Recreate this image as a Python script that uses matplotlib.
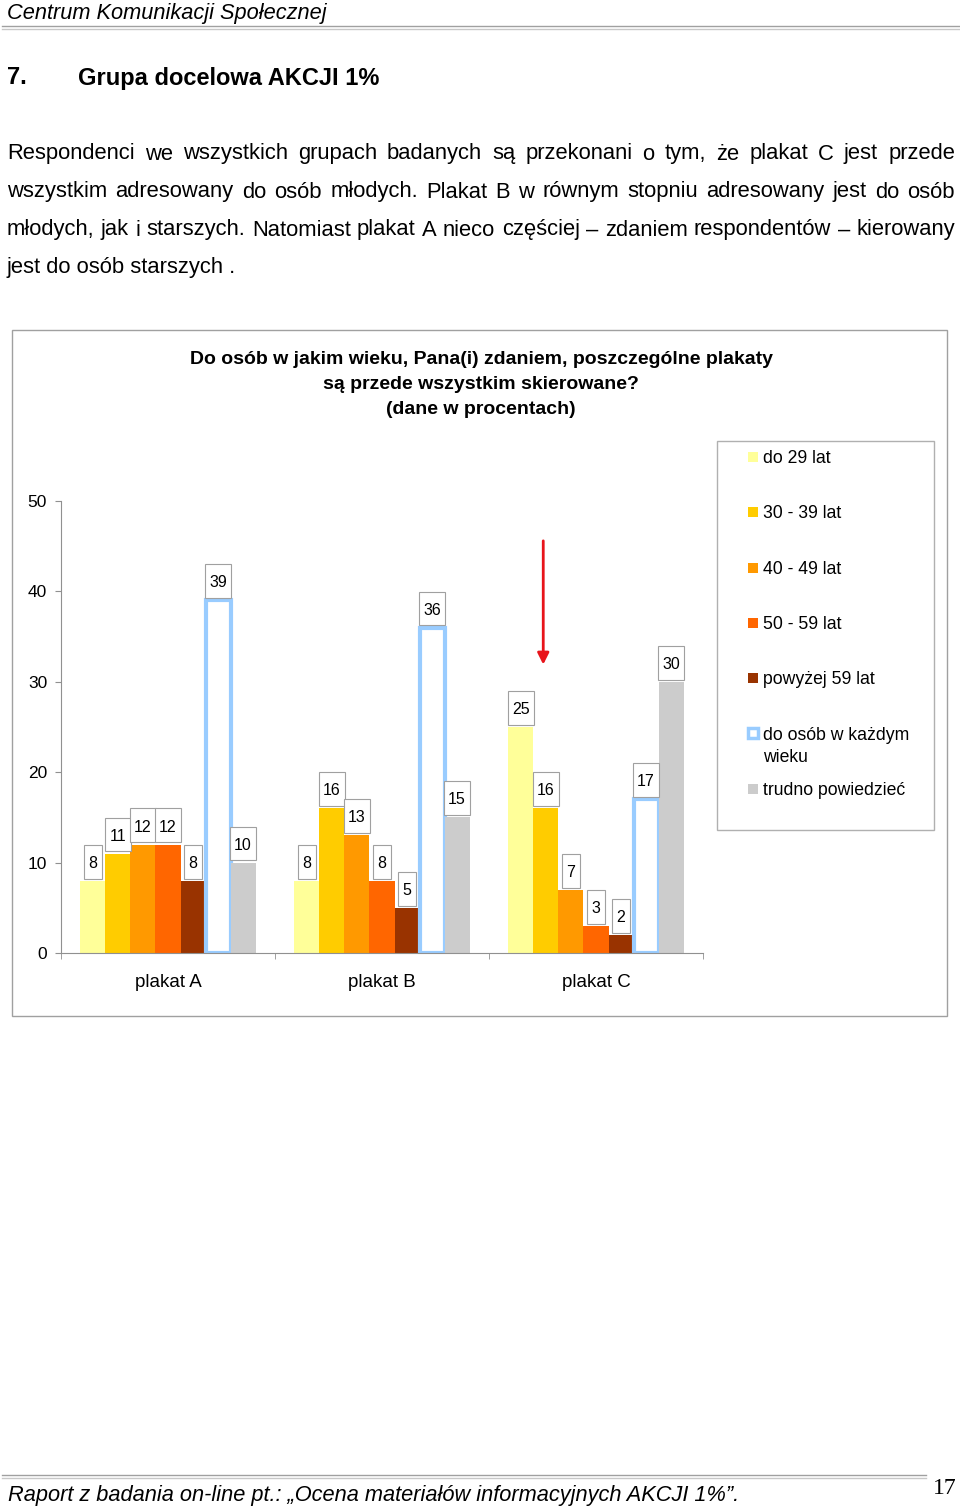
import numpy as np
import matplotlib
matplotlib.use("Agg")
import matplotlib.pyplot as plt
from matplotlib.patches import Rectangle
from matplotlib.path import Path

plt.rcParams['font.family'] = ['Liberation Sans', 'DejaVu Sans']

# --- data ---
categories = ['plakat A', 'plakat B', 'plakat C']
series = ['do 29 lat', '30 - 39 lat', '40 - 49 lat', '50 - 59 lat',
          'powyżej 59 lat', 'do osób w każdym\nwieku', 'trudno powiedzieć']
do29 = [8, 8, 25]
od30 = [11, 16, 16]
od40 = [12, 13, 7]
od50 = [12, 8, 3]
pow59 = [8, 5, 2]
kazdy = [39, 36, 17]
trudno = [10, 15, 30]
values = [do29, od30, od40, od50, pow59, kazdy, trudno]
colors = ['#FFFF99', '#FFCC00', '#FF9900', '#FF6600', '#993300', 'white', '#CCCCCC']
blue = '#99CCFF'
yticks = [0, 10, 20, 30, 40, 50]

title = ["Do osób w jakim wieku, Pana(i) zdaniem, poszczególne plakaty",
         "są przede wszystkim skierowane?",
         "(dane w procentach)"]
para = ["Respondenci we wszystkich grupach badanych są przekonani o tym, że plakat C jest przede",
        "wszystkim adresowany do osób młodych. Plakat B w równym stopniu adresowany jest do osób",
        "młodych, jak i starszych. Natomiast plakat A nieco częściej – zdaniem respondentów – kierowany",
        "jest do osób starszych ."]

W, H = 960, 1507
fig = plt.figure(figsize=(W / 100, H / 100), dpi=100)


def fx(x):
    return x / W


def fy(y):
    return 1 - y / H


def tallbox(x0, y0, width, height, mutation_size):
    # value box: tall, digits centred (text bbox includes descent below the digits)
    cx = x0 + width / 2
    cy = y0 + 0.57 * mutation_size
    hw = width / 2 + 0.28 * mutation_size
    hh = 1.06 * mutation_size
    pts = [(cx - hw, cy - hh), (cx + hw, cy - hh), (cx + hw, cy + hh), (cx - hw, cy + hh), (cx - hw, cy - hh)]
    return Path(pts, closed=True)


# --- page text ---
narrow = ['Liberation Sans Narrow', 'Liberation Sans']
fig.text(fx(7), fy(13), "Centrum Komunikacji Społecznej", style='italic', fontsize=15.7,
         family=narrow, va='center')
fig.add_artist(plt.Line2D([fx(2), fx(960)], [fy(26), fy(26)], color='#A0A0A0', lw=1))
fig.add_artist(plt.Line2D([fx(2), fx(960)], [fy(28.5), fy(28.5)], color='#C8C8C8', lw=1))

fig.text(fx(7), fy(78), "7.", fontsize=17, weight='bold', va='center')
fig.text(fx(78), fy(78), "Grupa docelowa AKCJI 1%", fontsize=17, weight='bold', va='center')

r = fig.canvas.get_renderer()
for i, line in enumerate(para):
    y = fy(154 + 38 * i)
    if i == len(para) - 1:
        fig.text(fx(7), y, line, fontsize=15.8, va='center')
        continue
    words = line.split()
    texts = [fig.text(0, y, w, fontsize=15.8, va='center') for w in words]
    widths = [t.get_window_extent(r).width for t in texts]
    gap = (955 - 7 - sum(widths)) / (len(words) - 1)
    x = 7
    for t, w in zip(texts, widths):
        t.set_x(fx(x))
        x += w + gap

fig.add_artist(plt.Line2D([fx(2), fx(926)], [fy(1475), fy(1475)], color='#A0A0A0', lw=1))
fig.add_artist(plt.Line2D([fx(2), fx(926)], [fy(1477.5), fy(1477.5)], color='#C8C8C8', lw=1))
fig.text(fx(8), fy(1495), "Raport z badania on-line pt.: „Ocena materiałów informacyjnych AKCJI 1%”.",
         style='italic', fontsize=15.7, family=narrow, va='center')
fig.text(fx(945), fy(1489), "17", fontsize=17, family=['Liberation Serif', 'DejaVu Serif'],
         ha='center', va='center')

# --- chart frame ---
fig.patches.append(Rectangle((fx(12), fy(1016)), 935 / W, 686 / H, transform=fig.transFigure,
                             fill=False, ec='#A0A0A0', lw=1))
for i, line in enumerate(title):
    fig.text(fx(481), fy(360 + 24.5 * i), line, fontsize=14, weight='bold', ha='center', va='center')

# --- axes ---
ax = fig.add_axes([fx(61), fy(953), 642 / W, 452 / H])
ax.set_xlim(0, 3)
ax.set_ylim(0, 50)
bw = 0.117
x = np.arange(len(categories)) + 0.5
for k, (vals, c) in enumerate(zip(values, colors)):
    xs = x + (k - 3) * bw
    if k == 5:
        ax.bar(xs, vals, bw, color='white', edgecolor=blue, linewidth=3, zorder=2)
    else:
        ax.bar(xs, vals, bw, color=c, linewidth=0, zorder=2)
    for xi, v in zip(xs, vals):
        ax.annotate(str(v), xy=(xi, v), xytext=(0, 7.2), textcoords='offset points',
                    ha='center', va='bottom', fontsize=11.5, zorder=3,
                    bbox=dict(boxstyle=tallbox, fc='white', ec='#A0A0A0', lw=0.8))

for s in ['top', 'right']:
    ax.spines[s].set_visible(False)
for s in ['left', 'bottom']:
    ax.spines[s].set_color('#909090')
    ax.spines[s].set_linewidth(0.8)
ax.set_yticks(yticks)
ax.tick_params(axis='y', length=4, pad=6, color='#909090', labelsize=12.5)
ax.set_xticks(x)
ax.set_xticklabels(categories, fontsize=13.5)
ax.set_xticks([0, 1, 2, 3], minor=True)
ax.tick_params(axis='x', which='major', length=0, pad=15)
ax.tick_params(axis='x', which='minor', length=4, color='#909090')

# red arrow
arrow_x, arrow_y0, arrow_y1 = 2.2535, 45.9, 31.6
ax.annotate('', xy=(arrow_x, arrow_y1), xytext=(arrow_x, arrow_y0),
            arrowprops=dict(arrowstyle='-|>', color='#E8141B', lw=2, mutation_scale=17),
            annotation_clip=False)

# --- legend ---
fig.patches.append(Rectangle((fx(717), fy(830)), 217 / W, 389 / H, transform=fig.transFigure,
                             fill=False, ec='#B0B0B0', lw=1))
for i, (lab, c) in enumerate(zip(series, colors)):
    y = 457 + 55.3 * i
    if c == 'white':
        fig.patches.append(Rectangle((fx(747.5), fy(y + 5)), 10 / W, 10 / H, transform=fig.transFigure,
                                     fc='white', ec=blue, lw=2.5))
    else:
        fig.patches.append(Rectangle((fx(748), fy(y + 5)), 10 / W, 10 / H, transform=fig.transFigure,
                                     fc=c, ec='none'))
    for j, part in enumerate(lab.split('\n')):
        fig.text(fx(763), fy(y + 1.5 + 23 * j), part, fontsize=12.7, va='center')

fig.savefig('out.png', dpi=100)
